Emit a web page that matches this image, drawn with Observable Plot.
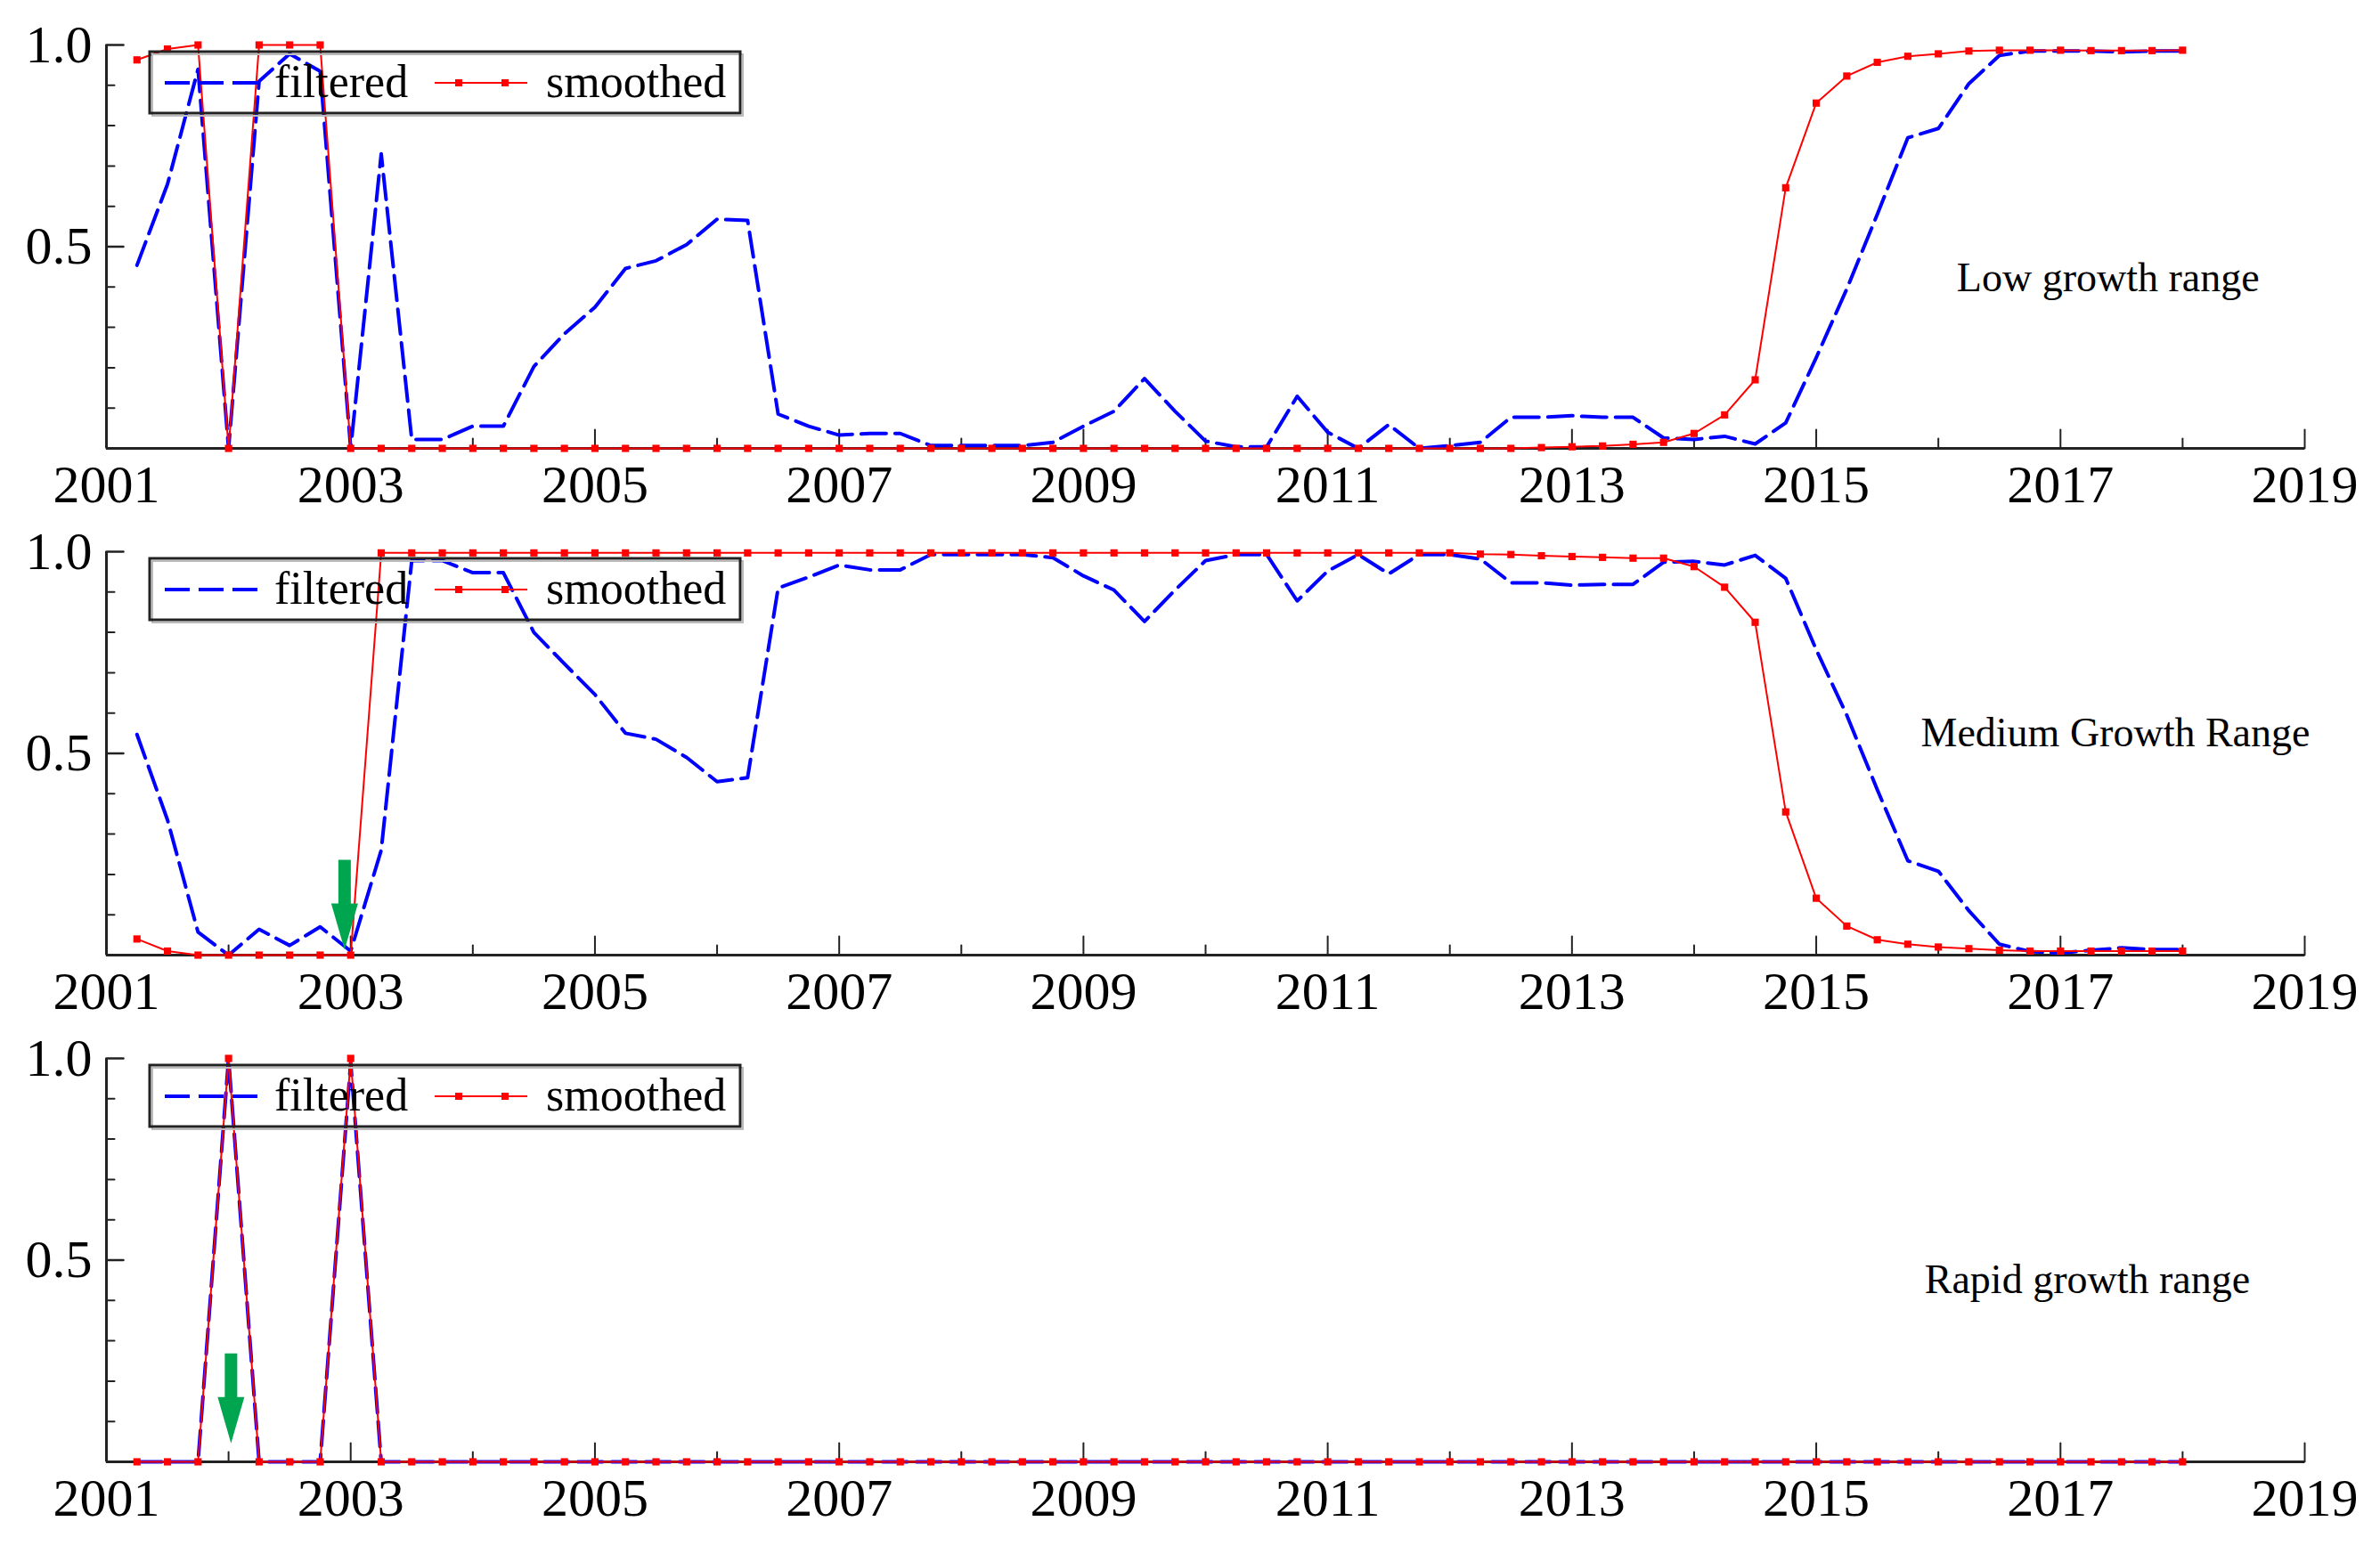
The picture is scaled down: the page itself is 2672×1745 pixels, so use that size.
<!DOCTYPE html>
<html>
<head>
<meta charset="utf-8">
<script src="https://cdn.jsdelivr.net/npm/d3@7"></script>
<script src="https://cdn.jsdelivr.net/npm/@observablehq/plot@0.6"></script>
<style>
html, body { margin: 0; padding: 0; background: #fff; }
#chart { position: relative; width: 2672px; height: 1745px; background: #fff; }
#chart svg { position: absolute; left: 0; display: block; }
</style>
</head>
<body>
<div id="chart"></div>
<script>
// ---------- DATA ----------
const quarters = [
  2001.25, 2001.5, 2001.75, 2002.0, 2002.25, 2002.5, 2002.75, 2003.0,
  2003.25, 2003.5, 2003.75, 2004.0, 2004.25, 2004.5, 2004.75, 2005.0,
  2005.25, 2005.5, 2005.75, 2006.0, 2006.25, 2006.5, 2006.75, 2007.0,
  2007.25, 2007.5, 2007.75, 2008.0, 2008.25, 2008.5, 2008.75, 2009.0,
  2009.25, 2009.5, 2009.75, 2010.0, 2010.25, 2010.5, 2010.75, 2011.0,
  2011.25, 2011.5, 2011.75, 2012.0, 2012.25, 2012.5, 2012.75, 2013.0,
  2013.25, 2013.5, 2013.75, 2014.0, 2014.25, 2014.5, 2014.75, 2015.0,
  2015.25, 2015.5, 2015.75, 2016.0, 2016.25, 2016.5, 2016.75, 2017.0,
  2017.25, 2017.5, 2017.75, 2018.0
];

const lowFiltered = [
  0.454, 0.655, 0.94, 0.0, 0.91, 0.978, 0.935, 0.0,
  0.73, 0.022, 0.022, 0.055, 0.055, 0.203, 0.284, 0.35,
  0.446, 0.465, 0.505, 0.568, 0.565, 0.085, 0.055, 0.033,
  0.037, 0.037, 0.007, 0.007, 0.007, 0.007, 0.015, 0.055,
  0.092, 0.173, 0.092, 0.018, 0.004, 0.004, 0.129, 0.04,
  0.0, 0.059, 0.0, 0.007, 0.015, 0.077, 0.077, 0.081,
  0.077, 0.077, 0.026, 0.022, 0.03, 0.011, 0.063, 0.225,
  0.395, 0.58, 0.77, 0.793, 0.904, 0.974, 0.985, 0.985,
  0.985, 0.983, 0.985, 0.985
];
const lowSmoothed = [
  0.963, 0.99, 1.0, 0.0, 1.0, 1.0, 1.0, 0.0,
  0, 0, 0, 0, 0, 0, 0, 0,
  0, 0, 0, 0, 0, 0, 0, 0,
  0, 0, 0, 0, 0, 0, 0, 0,
  0, 0, 0, 0, 0, 0, 0, 0,
  0, 0, 0, 0, 0, 0, 0.002, 0.004,
  0.006, 0.01, 0.015, 0.037, 0.083, 0.17, 0.646, 0.856,
  0.923, 0.957, 0.972, 0.978, 0.985, 0.987, 0.987, 0.987,
  0.986, 0.986, 0.986, 0.987
];

const mediumFiltered = [
  0.547, 0.335, 0.057, 0.0, 0.064, 0.024, 0.07, 0.01,
  0.26, 0.978, 0.978, 0.948, 0.948, 0.8, 0.722, 0.646,
  0.55, 0.535, 0.49, 0.43, 0.44, 0.91, 0.937, 0.967,
  0.955, 0.955, 0.993, 0.993, 0.993, 0.993, 0.985, 0.94,
  0.905, 0.827, 0.905, 0.978, 0.993, 0.993, 0.878, 0.952,
  0.993, 0.945, 0.993, 0.993, 0.982, 0.923, 0.923, 0.917,
  0.919, 0.919, 0.974, 0.976, 0.967, 0.991, 0.934, 0.757,
  0.595, 0.41, 0.234, 0.208, 0.11, 0.027, 0.009, 0.005,
  0.012, 0.018, 0.014, 0.014
];
const mediumSmoothed = [
  0.04, 0.01, 0.0, 0.0, 0.0, 0.0, 0.0, 0.0,
  0.997, 0.997, 0.997, 0.997, 0.997, 0.997, 0.997, 0.997,
  0.997, 0.997, 0.997, 0.997, 0.997, 0.997, 0.997, 0.997,
  0.997, 0.997, 0.997, 0.997, 0.997, 0.997, 0.997, 0.997,
  0.997, 0.997, 0.997, 0.997, 0.997, 0.997, 0.997, 0.997,
  0.997, 0.997, 0.997, 0.997, 0.994, 0.993, 0.99, 0.988,
  0.986, 0.984, 0.984, 0.963, 0.912, 0.825, 0.355, 0.141,
  0.072, 0.038, 0.027, 0.02, 0.016, 0.012, 0.01, 0.01,
  0.01, 0.01, 0.01, 0.01
];

const rapidFiltered = [
  0, 0, 0, 1.0, 0, 0, 0, 0.99,
  0, 0, 0, 0, 0, 0, 0, 0,
  0, 0, 0, 0, 0, 0, 0, 0,
  0, 0, 0, 0, 0, 0, 0, 0,
  0, 0, 0, 0, 0, 0, 0, 0,
  0, 0, 0, 0, 0, 0, 0, 0,
  0, 0, 0, 0, 0, 0, 0, 0,
  0, 0, 0, 0, 0, 0, 0, 0,
  0, 0, 0, 0
];
const rapidSmoothed = [
  0, 0, 0, 1.0, 0, 0, 0, 1.0,
  0, 0, 0, 0, 0, 0, 0, 0,
  0, 0, 0, 0, 0, 0, 0, 0,
  0, 0, 0, 0, 0, 0, 0, 0,
  0, 0, 0, 0, 0, 0, 0, 0,
  0, 0, 0, 0, 0, 0, 0, 0,
  0, 0, 0, 0, 0, 0, 0, 0,
  0, 0, 0, 0, 0, 0, 0, 0,
  0, 0, 0, 0
];

const xLabelTicks = [2001, 2003, 2005, 2007, 2009, 2011, 2013, 2015, 2017, 2019];
const xMinorTicks = [2002, 2004, 2006, 2008, 2010, 2012, 2014, 2016, 2018];
const yLabelTicks = [0.5, 1.0];
const yMinorTicks = [0.1, 0.2, 0.3, 0.4, 0.6, 0.7, 0.8, 0.9];
const seriesNames = ["filtered", "smoothed"];
const panelTitles = ["Low growth range", "Medium Growth Range", "Rapid growth range"];

// annotation anchors (data units)
const titleAnchors = [
  {x: 2017.39, y: 0.423},
  {x: 2017.45, y: 0.551},
  {x: 2017.22, y: 0.451}
];
const arrowTips = [
  [],
  [{x: 2002.95, y: 0.013}],
  [{x: 2002.02, y: 0.046}]
];

// ---------- STYLE / LAYOUT ----------
const FONT = "'Liberation Serif', 'Times New Roman', Times, serif";
const W = 2672, H = 569;
const MT = 40, MB = 76, ML = 119, MR = 85;
const AXIS = "#222";
const BLUE = "#0000ff", RED = "#ff0000", GREEN = "#00a54f";

const tickShape = {
  draw(context, l) { context.moveTo(0, 0); context.lineTo(0, -l); }
};
const blockArrow = {
  draw(context, l) {
    const sw = 7, hw = 15, hl = 52;
    context.moveTo(-sw, 0);
    context.lineTo(-sw, -(l - hl));
    context.lineTo(-hw, -(l - hl));
    context.lineTo(0, -l);
    context.lineTo(hw, -(l - hl));
    context.lineTo(sw, -(l - hl));
    context.lineTo(sw, 0);
    context.closePath();
  }
};

const panelData = [
  [lowFiltered, lowSmoothed],
  [mediumFiltered, mediumSmoothed],
  [rapidFiltered, rapidSmoothed]
];

const chart = document.getElementById("chart");

panelData.forEach(([filt, smooth], k) => {
  const rows = quarters.map((q, i) => ({q, f: filt[i], s: smooth[i]}));
  const svg = Plot.plot({
    width: W, height: H,
    marginTop: MT, marginBottom: MB, marginLeft: ML, marginRight: MR,
    x: {domain: [2001, 2019], axis: null},
    y: {domain: [0, 1], axis: null},
    style: {background: "transparent", overflow: "visible", fontFamily: FONT},
    marks: [
      // axes lines
      Plot.ruleY([0], {stroke: AXIS, strokeWidth: 3}),
      Plot.ruleX([2001], {stroke: AXIS, strokeWidth: 3}),
      // inward ticks
      Plot.vector(xLabelTicks, {x: d => d, y: 0, length: 21, rotate: 0, anchor: "start", shape: tickShape, stroke: AXIS, strokeWidth: 2}),
      Plot.vector(xMinorTicks, {x: d => d, y: 0, length: 11, rotate: 0, anchor: "start", shape: tickShape, stroke: AXIS, strokeWidth: 2}),
      Plot.vector(yLabelTicks, {x: 2001, y: d => d, length: 19, rotate: 90, anchor: "start", shape: tickShape, stroke: AXIS, strokeWidth: 2.5}),
      Plot.vector(yMinorTicks, {x: 2001, y: d => d, length: 9, rotate: 90, anchor: "start", shape: tickShape, stroke: AXIS, strokeWidth: 2}),
      // tick labels
      Plot.text(xLabelTicks, {x: d => d, y: 0, text: d => String(d), dy: 41, fontSize: 60, fontFamily: FONT, fill: "#000"}),
      Plot.text(yLabelTicks, {x: 2001, y: d => d, text: d => d.toFixed(1), textAnchor: "end", dx: -16, fontSize: 60, fontFamily: FONT, fill: "#000"}),
      // series
      Plot.line(rows, {x: "q", y: "f", stroke: BLUE, strokeWidth: 4, strokeDasharray: "28,10"}),
      Plot.line(rows, {x: "q", y: "s", stroke: RED, strokeWidth: 2}),
      Plot.dot(rows, {x: "q", y: "s", symbol: "square", r: 4.6, fill: RED, stroke: "none"}),
      // panel title
      Plot.text([panelTitles[k]], {x: titleAnchors[k].x, y: titleAnchors[k].y, text: d => d, fontSize: 46, fontFamily: FONT, fill: "#000"}),
      // green arrows
      Plot.vector(arrowTips[k], {x: "x", y: "y", length: 101, rotate: 180, anchor: "end", shape: blockArrow, fill: GREEN, stroke: "none"})
    ]
  });
  svg.style.top = (10 + H * k) + "px";

  // legend box
  const g = d3.select(svg).append("g").attr("class", "legend").attr("text-anchor", "start");
  const bx = ML + 49, by = MT + 8, bw = 663, bh = 69;
  g.append("rect").attr("x", bx + 3).attr("y", by + 3).attr("width", bw).attr("height", bh)
    .attr("fill", "none").attr("stroke", "#bbb").attr("stroke-width", 2);
  g.append("rect").attr("x", bx).attr("y", by).attr("width", bw).attr("height", bh)
    .attr("fill", "none").attr("stroke", AXIS).attr("stroke-width", 3);
  const ly = by + 35;
  g.append("line").attr("x1", bx + 17).attr("x2", bx + 122).attr("y1", ly).attr("y2", ly)
    .attr("stroke", BLUE).attr("stroke-width", 4).attr("stroke-dasharray", "28,10");
  g.append("text").attr("x", bx + 140).attr("y", by + 51).text(seriesNames[0])
    .attr("text-anchor", "start")
    .attr("font-family", FONT).attr("font-size", 52).attr("fill", "#000");
  g.append("line").attr("x1", bx + 320).attr("x2", bx + 424).attr("y1", ly).attr("y2", ly)
    .attr("stroke", RED).attr("stroke-width", 2);
  [bx + 347, bx + 399].forEach(cx => {
    g.append("rect").attr("x", cx - 4).attr("y", ly - 4).attr("width", 8).attr("height", 8).attr("fill", RED);
  });
  g.append("text").attr("x", bx + 445).attr("y", by + 51).text(seriesNames[1])
    .attr("text-anchor", "start")
    .attr("font-family", FONT).attr("font-size", 52).attr("fill", "#000");

  chart.appendChild(svg);
});
</script>
</body>
</html>
